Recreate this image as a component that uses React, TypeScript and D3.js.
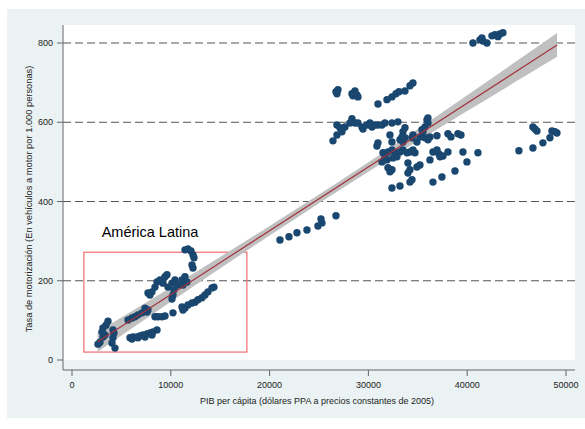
import React from "react";
import * as d3 from "d3";

// ---- Data ----
const xTicks = [0, 10000, 20000, 30000, 40000, 50000];
const yTicks = [0, 200, 400, 600, 800];
const yGrid = [200, 400, 600, 800];

// GDP per capita (PPP 2005 USD)
const gdp = [
  // América Latina
  11436, 11740, 12043, 12245, 12346, 12144, 12245,
  8602, 8906, 9412, 9614, 9209, 9715, 10120, 10424, 10727, 10322, 10221, 10120, 11132, 11436, 11638, 11233, 8400, 8096, 7894, 7691,
  7388, 7590, 7084, 6679, 6376, 6072, 5667, 7691,
  11132, 11436, 11739, 12144, 12448, 12751, 13156, 13460, 13763, 14168, 14370, 11233, 10221,
  8400, 8703, 9108, 9412,
  5870, 6173, 6578, 6882, 7185, 7590, 7894, 8197, 8602, 6072, 6679, 7388, 8096,
  3643, 3441, 3137, 3036, 3137, 2834, 2631, 3340, 4149, 4250, 4149, 4048, 4352,
  // middle
  21050, 21960, 22770, 23780, 24895, 25200, 25300, 26717,
  // upper group
  26717, 26919, 26818, 28336, 28640, 28842, 28943, 28437, 30967, 31878, 32384, 32789, 33092, 33700, 34206, 34509,
  // ~600 row
  26818, 27122, 27628, 28134, 28336, 28640, 28943, 29348, 29449, 29854, 30158, 30360, 30664, 30967, 31372, 31676, 32384, 32991, 33497, 33700,
  26413, 26818, 27324, 32182, 32384, 30967, 30866,
  33396, 33194, 33700, 33497, 34408, 34509, 34914, 35218, 35521, 35724, 35926, 36027, 36027, 35420, 35724, 36027, 36230, 36938, 38051, 38355, 39063, 39367,
  // lower group
  31473, 31676, 31979, 32384, 32688, 32890, 33194, 33497, 33902, 34206, 34509, 34712, 31878, 31372, 32485,
  31979, 32182, 32384, 34003, 34206, 34003, 34408, 34206, 34914, 32384, 33194,
  36533, 36938, 37140, 37545, 38051, 37242, 39569, 41087, 36230, 39974, 38760, 37444, 36533, 35218,
  // top right
  40581, 41290, 41492, 41593, 41998, 42504, 42807, 43111, 43313, 43617,
  // far right
  46653, 46856, 47058, 48576, 48880, 49082, 48374, 47665, 46653, 45236,
];

// Motorization rate (vehicles per 1,000 people)
const rate = [
  278, 280, 275, 265, 258, 240, 232,
  197, 202, 210, 215, 194, 184, 194, 202, 189, 177, 164, 154, 202, 210, 197, 189, 184, 172, 164, 169,
  131, 121, 119, 114, 109, 106, 101, 126,
  134, 131, 139, 144, 146, 152, 157, 164, 172, 182, 184, 126, 119,
  109, 109, 109, 111,
  56, 58, 58, 61, 63, 66, 68, 71, 76, 53, 56, 58, 63,
  98, 88, 81, 71, 58, 45, 40, 63, 76, 68, 56, 43, 30,
  303, 311, 321, 328, 338, 356, 346, 364,
  677, 682, 672, 672, 679, 669, 664, 667, 646, 657, 664, 672, 677, 679, 692, 699,
  593, 586, 588, 598, 609, 598, 598, 588, 583, 593, 598, 588, 593, 593, 593, 598, 598, 601, 576, 586,
  553, 568, 576, 568, 550, 548, 540,
  563, 556, 561, 550, 561, 568, 550, 563, 576, 588, 606, 611, 598, 581, 561, 556, 563, 566, 571, 563, 571, 568,
  523, 513, 525, 530, 523, 513, 525, 530, 523, 525, 530, 523, 505, 500, 510,
  485, 475, 480, 497, 480, 472, 455, 449, 487, 434, 439,
  525, 530, 520, 515, 525, 513, 525, 523, 505, 500, 477, 462, 449, 492,
  800, 808, 813, 805, 800, 818, 821, 816, 823, 826,
  588, 583, 578, 578, 576, 573, 561, 548, 535, 528,
];

// fitted line and its confidence band
const fitX = [2600, 49100];
const fitY = [46, 795];
const ciX = [2600, 10000, 20000, 30000, 40000, 49100];
const ciHalf = [25, 18, 12, 12, 20, 30];

// annotation box
const boxX = [1200, 17700];
const boxY = [20, 272];
const boxLabel = "América Latina";

const W = 585;
const H = 429;

export default function App() {
  const x = d3.scaleLinear().domain([0, 50000]).range([72, 566]);
  const y = d3.scaleLinear().domain([0, 800]).range([360, 43]);
  const fit = d3.scaleLinear().domain(fitX).range(fitY);

  const band = d3
    .area<number>()
    .x((d) => x(d))
    .y0((d, i) => y(fit(d) - ciHalf[i]))
    .y1((d, i) => y(fit(d) + ciHalf[i]))
    .curve(d3.curveMonotoneX);

  const line = d3
    .line<number>()
    .x((d) => x(d))
    .y((d) => y(fit(d)));

  const font = "'Liberation Sans', Arial, sans-serif";
  const axisColor = "#666";
  const plotL = 63,
    plotR = 575,
    plotT = 25,
    plotB = 360,
    axisY = 370;

  return (
    <svg
      width={W}
      height={H}
      style={{ position: "absolute", left: 0, top: 0, background: "#fff" }}
      fontFamily={font}
    >
      <rect x={7} y={9} width={W - 7} height={409} fill="#eaf2f3" />
      <rect x={plotL} y={plotT} width={plotR - plotL} height={plotB - plotT} fill="#fff" />

      {yGrid.map((v) => (
        <line
          key={"g" + v}
          x1={plotL}
          x2={plotR}
          y1={y(v)}
          y2={y(v)}
          stroke="#555"
          strokeWidth={1}
          strokeDasharray="8,4"
        />
      ))}

      <rect
        x={x(boxX[0])}
        y={y(boxY[1])}
        width={x(boxX[1]) - x(boxX[0])}
        height={y(boxY[0]) - y(boxY[1])}
        fill="none"
        stroke="#f26d6d"
        strokeWidth={1.2}
      />
      <text x={x(3000)} y={237} fontSize={14.5} fill="#000">
        {boxLabel}
      </text>

      <path d={band(ciX) || ""} fill="#c0c0c0" />

      {gdp.map((g, i) => (
        <circle key={i} cx={x(g)} cy={y(rate[i])} r={3.7} fill="#1a476f" />
      ))}

      <path d={line(fitX) || ""} stroke="#a3343f" strokeWidth={1.2} fill="none" />

      {/* axes */}
      <line x1={plotL} x2={plotL} y1={plotT} y2={axisY} stroke={axisColor} strokeWidth={1} />
      <line x1={plotL} x2={plotR} y1={axisY} y2={axisY} stroke={axisColor} strokeWidth={1} />
      {yTicks.map((v) => (
        <g key={"y" + v}>
          <line x1={57} x2={plotL} y1={y(v)} y2={y(v)} stroke={axisColor} />
          <text x={53} y={y(v) + 3} fontSize={9} textAnchor="end" fill="#222">
            {v}
          </text>
        </g>
      ))}
      {xTicks.map((v) => (
        <g key={"x" + v}>
          <line x1={x(v)} x2={x(v)} y1={axisY} y2={axisY + 6} stroke={axisColor} />
          <text x={x(v)} y={388} fontSize={9} textAnchor="middle" fill="#222">
            {v}
          </text>
        </g>
      ))}
      <text x={317} y={404} fontSize={9} textAnchor="middle" fill="#222">
        PIB per cápita (dólares PPA a precios constantes de 2005)
      </text>
      <text
        transform={`translate(32,199) rotate(-90)`}
        fontSize={9.3}
        textAnchor="middle"
        fill="#222"
      >
        Tasa de motorización (En vehículos a motor por 1.000 personas)
      </text>
    </svg>
  );
}
